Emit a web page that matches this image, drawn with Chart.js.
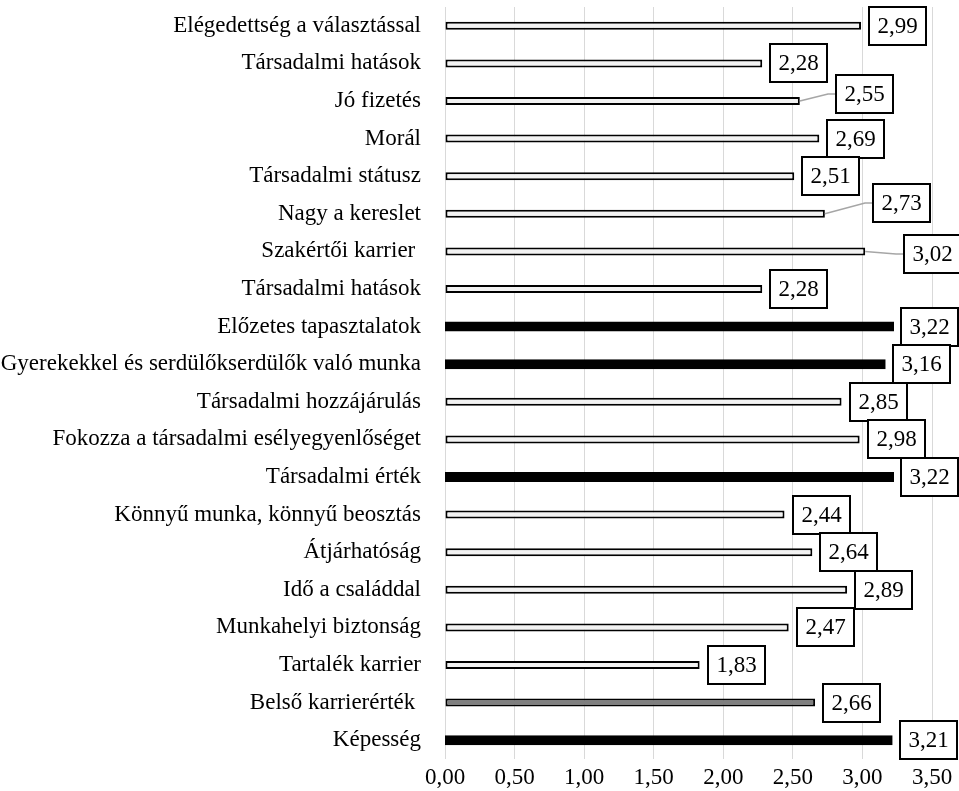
<!DOCTYPE html>
<html lang="hu">
<head>
<meta charset="utf-8">
<title>Pályaválasztási motivációk</title>
<script src="https://cdn.jsdelivr.net/npm/chart.js@4/dist/chart.umd.min.js"></script>
<style>
  html, body { margin: 0; padding: 0; background: #ffffff; }
  #wrap { width: 959px; height: 791px; position: relative; }
</style>
</head>
<body>
<div id="wrap"><canvas id="chart"></canvas></div>
<script>
// Motivation items, top to bottom
const categories = [
  'Elégedettség a választással',
  'Társadalmi hatások',
  'Jó fizetés',
  'Morál',
  'Társadalmi státusz',
  'Nagy a kereslet',
  'Szakértői karrier ',
  'Társadalmi hatások',
  'Előzetes tapasztalatok',
  'Gyerekekkel és serdülőkserdülők való munka',
  'Társadalmi hozzájárulás',
  'Fokozza a társadalmi esélyegyenlőséget',
  'Társadalmi érték',
  'Könnyű munka, könnyű beosztás',
  'Átjárhatóság',
  'Idő a családdal',
  'Munkahelyi biztonság',
  'Tartalék karrier',
  'Belső karrierérték ',
  'Képesség'
];

// Mean scores
const values = [
  2.99, 2.28, 2.55, 2.69, 2.51, 2.73, 3.02, 2.28, 3.22, 3.16,
  2.85, 2.98, 3.22, 2.44, 2.64, 2.89, 2.47, 1.83, 2.66, 3.21
];

// Bar kind: 'light', 'dark' or 'grey'
const barKind = [
  'light', 'light', 'light', 'light', 'light', 'light', 'light', 'light', 'dark', 'dark',
  'light', 'light', 'dark', 'light', 'light', 'light', 'light', 'light', 'grey', 'dark'
];

// X axis tick values
const xTicks = [0, 0.5, 1, 1.5, 2, 2.5, 3, 3.5];

// Value-box nudges (dx, dy in px) for labels moved away from their bar end
const labelShift = {
  2: [28, -7],
  5: [40, -11],
  6: [31, 3]
};

const FONT = '"Liberation Serif", "Times New Roman", serif';
const fmt = v => v.toFixed(2).replace('.', ',');

const fillFor = { light: '#f2f2f2', dark: '#000000', grey: '#7f7f7f' };

// Boxed value labels, with a grey leader line where the box was moved
const valueBoxes = {
  id: 'valueBoxes',
  afterDatasetsDraw(chart) {
    const ctx = chart.ctx;
    const meta = chart.getDatasetMeta(0);
    ctx.save();
    ctx.font = '23px ' + FONT;
    ctx.textBaseline = 'middle';
    ctx.textAlign = 'center';
    meta.data.forEach((bar, i) => {
      const text = fmt(values[i]);
      const shift = labelShift[i] || [0, 0];
      const tw = ctx.measureText(text).width;
      const w = Math.round(tw + 17);
      const h = 38;
      const left = Math.round(bar.x + 8 + shift[0]);
      const cy = Math.round(bar.y + shift[1]);
      if (labelShift[i]) {
        ctx.strokeStyle = '#a6a6a6';
        ctx.lineWidth = 1.5;
        ctx.beginPath();
        ctx.moveTo(bar.x, bar.y);
        ctx.lineTo(left - 8, cy);
        ctx.lineTo(left, cy);
        ctx.stroke();
      }
      const top = cy - h / 2;
      ctx.fillStyle = '#ffffff';
      ctx.fillRect(left, top, w, h);
      ctx.strokeStyle = '#000000';
      ctx.lineWidth = 2;
      ctx.strokeRect(left, top, w, h);
      ctx.fillStyle = '#000000';
      ctx.fillText(text, left + w / 2, cy + 1);
    });
    ctx.restore();
  }
};

new Chart(document.getElementById('chart'), {
  type: 'bar',
  data: {
    labels: categories,
    datasets: [{
      data: values,
      backgroundColor: ctx => fillFor[barKind[ctx.dataIndex]],
      borderColor: '#000000',
      borderWidth: 2,
      borderSkipped: false,
      barThickness: 8,
      inflateAmount: ctx => (barKind[ctx.dataIndex] === 'dark' ? 1 : 0)
    }]
  },
  options: {
    indexAxis: 'y',
    responsive: true,
    maintainAspectRatio: false,
    animation: false,
    layout: { padding: { top: 7, left: 0, right: 27, bottom: 0 } },
    plugins: {
      legend: { display: false },
      tooltip: { enabled: false }
    },
    scales: {
      x: {
        min: 0,
        max: 3.5,
        afterBuildTicks: scale => { scale.ticks = xTicks.map(v => ({ value: v })); },
        afterFit: scale => {
          scale.height = 32;
          scale.paddingLeft = 0;
          scale.paddingRight = 0;
        },
        grid: { color: '#d9d9d9', lineWidth: 1, drawTicks: false },
        border: { display: false },
        ticks: {
          padding: 5,
          color: '#000000',
          font: { family: FONT, size: 23 },
          callback: v => fmt(v)
        }
      },
      y: {
        afterFit: scale => {
          scale.width = 445;
          scale.paddingTop = 0;
          scale.paddingBottom = 0;
        },
        grid: { display: false, drawTicks: false },
        border: { display: false },
        ticks: {
          padding: 24,
          color: '#000000',
          font: { family: FONT, size: 23 },
          autoSkip: false
        }
      }
    }
  },
  plugins: [valueBoxes]
});
</script>
</body>
</html>
